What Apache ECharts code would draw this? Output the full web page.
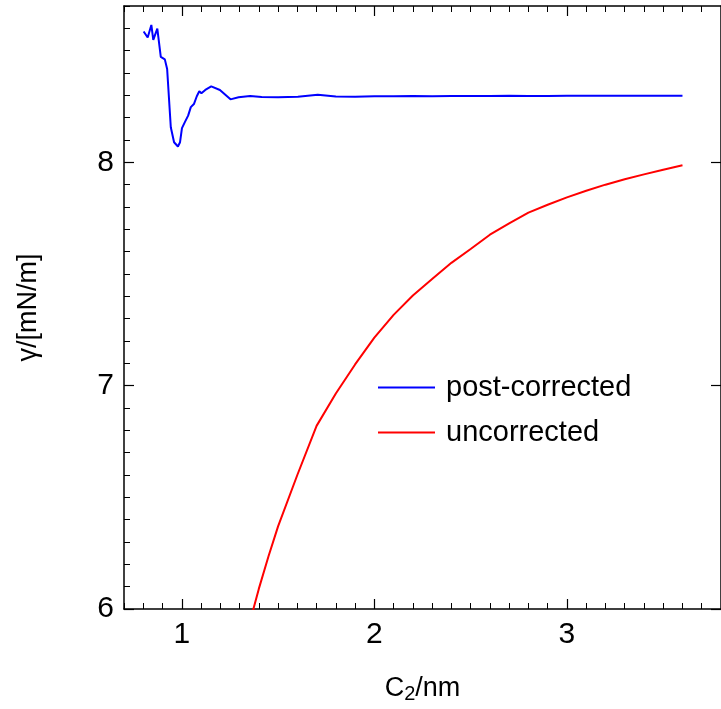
<!DOCTYPE html>
<html>
<head>
    <meta charset="utf-8">
    <script src="https://cdn.jsdelivr.net/npm/echarts@6/dist/echarts.min.js"></script>
    <style>
        html, body { margin: 0; padding: 0; background: #fff; }
        #main { width: 721px; height: 709px; }
    </style>
</head>
<body>
    <div id="main"></div>
    <script>
        // post-corrected curve
        var postX = [0.802, 0.823, 0.842, 0.852, 0.873, 0.891, 0.912, 0.924, 0.943, 0.960,
            0.980, 0.991, 1.001, 1.016, 1.033, 1.047, 1.063, 1.078, 1.091, 1.102,
            1.122, 1.153, 1.198, 1.253, 1.295, 1.355, 1.415, 1.50, 1.603, 1.706,
            1.8, 1.9, 2.0, 2.1, 2.2, 2.3, 2.4, 2.5, 2.6, 2.7, 2.8, 2.9, 3.0, 3.1, 3.2, 3.3, 3.4, 3.5, 3.6];
        var postY = [8.586, 8.559, 8.615, 8.548, 8.599, 8.472, 8.461, 8.418, 8.157, 8.090,
            8.071, 8.090, 8.153, 8.180, 8.209, 8.247, 8.261, 8.296, 8.318, 8.309,
            8.324, 8.340, 8.324, 8.282, 8.291, 8.297, 8.293, 8.291, 8.294, 8.303,
            8.295, 8.294, 8.296, 8.296, 8.297, 8.296, 8.297, 8.297, 8.297, 8.298, 8.297, 8.297, 8.298, 8.298, 8.298, 8.298, 8.298, 8.298, 8.298];

        // uncorrected curve
        var rawX = [1.3, 1.4, 1.45, 1.5, 1.6, 1.7, 1.8, 1.9, 2.0, 2.1, 2.2, 2.3, 2.4, 2.5,
            2.6, 2.7, 2.8, 2.9, 3.0, 3.1, 3.2, 3.3, 3.4, 3.5, 3.6];
        var rawY = [5.77, 6.09, 6.235, 6.37, 6.60, 6.82, 6.965, 7.095, 7.215, 7.317, 7.404, 7.478, 7.55, 7.612,
            7.676, 7.727, 7.775, 7.81, 7.843, 7.873, 7.9, 7.924, 7.946, 7.967, 7.987];

        var xMajor = [1, 2, 3];
        var yMajor = [6, 7, 8];
        var seriesNames = ['post-corrected', 'uncorrected'];

        function pairs(xs, ys) {
            return xs.map(function (x, i) { return [x, ys[i]]; });
        }

        var font = 'Liberation Sans, Arial, sans-serif';
        var black = '#000';

        function frameAxis(pos, min, max, major, extra) {
            var a = {
                type: 'value',
                position: pos,
                min: min,
                max: max,
                splitLine: { show: false },
                axisLine: { show: true, onZero: false, lineStyle: { color: black, width: 1.5 } },
                axisTick: { show: true, inside: true, length: 10, customValues: major, lineStyle: { color: black, width: 1.2 } },
                axisLabel: { show: false }
            };
            return Object.assign(a, extra || {});
        }

        function minorAxis(pos, min, max) {
            return {
                type: 'value',
                position: pos,
                min: min,
                max: max,
                interval: 0.1,
                splitLine: { show: false },
                axisLine: { show: false },
                axisTick: { show: true, inside: true, length: 6, lineStyle: { color: black, width: 1 } },
                axisLabel: { show: false }
            };
        }

        var chart = echarts.init(document.getElementById('main'));

        var option = {
            backgroundColor: '#fff',
            animation: false,
            grid: { left: 124, right: -7, top: 6, bottom: 97 },
            legend: {
                data: seriesNames,
                orient: 'vertical',
                left: 373,
                top: 368,
                icon: 'rect',
                itemWidth: 57,
                itemHeight: 2,
                itemGap: 16,
                textStyle: { fontFamily: font, fontSize: 29, color: black, padding: [0, 0, 0, 6] }
            },
            xAxis: [
                frameAxis('bottom', 0.7, 3.8, xMajor, {
                    axisLabel: { show: true, customValues: xMajor, margin: 11, fontFamily: font, fontSize: 30, color: black },
                    name: '{a|C}{b|2}{a|/nm}',
                    nameLocation: 'middle',
                    nameGap: 65,
                    nameTextStyle: {
                        rich: {
                            a: { fontFamily: font, fontSize: 27, color: black },
                            b: { fontFamily: font, fontSize: 20, color: black, padding: [10, 0, 0, 0] }
                        }
                    }
                }),
                minorAxis('bottom', 0.7, 3.8),
                frameAxis('top', 0.7, 3.8, xMajor),
                minorAxis('top', 0.7, 3.8)
            ],
            yAxis: [
                frameAxis('left', 6, 8.7, yMajor, {
                    axisLabel: { show: true, customValues: yMajor, margin: 10, fontFamily: font, fontSize: 30, color: black },
                    name: 'γ/[mN/m]',
                    nameLocation: 'middle',
                    nameGap: 82,
                    nameRotate: 90,
                    nameTextStyle: { fontFamily: font, fontSize: 27, color: black }
                }),
                minorAxis('left', 6, 8.7),
                frameAxis('right', 6, 8.7, yMajor)
            ],
            series: [{
                name: seriesNames[0],
                type: 'line',
                xAxisIndex: 0,
                yAxisIndex: 0,
                symbol: 'none',
                clip: true,
                lineStyle: { color: '#0000ff', width: 2 },
                itemStyle: { color: '#0000ff' },
                data: pairs(postX, postY)
            }, {
                name: seriesNames[1],
                type: 'line',
                xAxisIndex: 0,
                yAxisIndex: 0,
                symbol: 'none',
                clip: true,
                lineStyle: { color: '#ff0000', width: 2 },
                itemStyle: { color: '#ff0000' },
                data: pairs(rawX, rawY)
            }]
        };

        chart.setOption(option);
    </script>
</body>
</html>
